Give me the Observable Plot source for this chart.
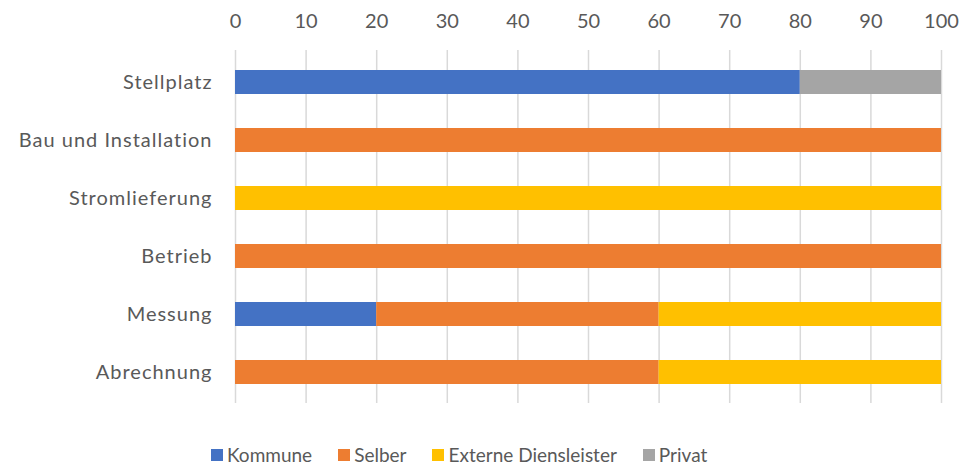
<!DOCTYPE html>
<html>
<head>
<meta charset="utf-8">
<script src="https://cdn.jsdelivr.net/npm/d3@7"></script>
<script src="https://cdn.jsdelivr.net/npm/@observablehq/plot@0.6"></script>
<style>
  body { margin: 0; background: #fff; font-family: Lato, "Open Sans", sans-serif; }
  #chart svg { display: block; }
  .legend { display: flex; align-items: center; margin-left: 211px; padding-top: 26px; color: #595959; font-size: 19px; line-height: 18px; }
  .legend .item { display: flex; align-items: center; margin-right: 26px; }
  .legend .sw { width: 12px; height: 12px; margin-right: 4px; }
  .ylab text { letter-spacing: 1px; }
</style>
</head>
<body>
<div id="chart"></div>
<script>
// Tasks and who carries them out (share in %)
const categories = ["Stellplatz", "Bau und Installation", "Stromlieferung", "Betrieb", "Messung", "Abrechnung"];
const seriesNames = ["Kommune", "Selber", "Externe Diensleister", "Privat"];
const seriesColors = ["#4472C4", "#ED7D31", "#FFC000", "#A5A5A5"];
const kommune = [80, 0, 0, 0, 20, 0];
const selber  = [0, 100, 0, 100, 40, 60];
const externe = [0, 0, 100, 0, 40, 40];
const privat  = [20, 0, 0, 0, 0, 0];
const xTicks = [0, 10, 20, 30, 40, 50, 60, 70, 80, 90, 100];

const seriesValues = [kommune, selber, externe, privat];
const rows = [];
seriesNames.forEach((s, i) => {
  categories.forEach((c, j) => {
    if (seriesValues[i][j] > 0) rows.push({category: c, series: s, value: seriesValues[i][j]});
  });
});

const textColor = "#595959";
const chart = Plot.plot({
  width: 973,
  height: 420,
  marginTop: 50,
  marginBottom: 17,
  marginLeft: 235,
  marginRight: 32,
  style: {fontFamily: "Lato, 'Open Sans', sans-serif", fontSize: "18px", color: textColor},
  x: {domain: [0, 100]},
  y: {domain: categories, paddingInner: 0.59, paddingOuter: 0.295},
  color: {domain: seriesNames, range: seriesColors},
  marks: [
    Plot.gridX(xTicks, {stroke: "#d9d9d9", strokeOpacity: 1, strokeWidth: 1.5}),
    Plot.barX(rows, Plot.stackX({y: "category", x: "value", fill: "series", order: seriesNames})),
    Plot.axisX({anchor: "top", ticks: xTicks, tickSize: 0, tickPadding: 23, label: null, fontSize: 20, fill: textColor}),
    Plot.axisY({tickSize: 0, tickPadding: 23, label: null, fontSize: 20, fill: textColor, className: "ylab"})
  ]
});
document.getElementById("chart").appendChild(chart);

const legend = document.createElement("div");
legend.className = "legend";
seriesNames.forEach((s, i) => {
  const item = document.createElement("div");
  item.className = "item";
  const sw = document.createElement("span");
  sw.className = "sw";
  sw.style.background = seriesColors[i];
  const label = document.createElement("span");
  label.textContent = s;
  item.append(sw, label);
  legend.appendChild(item);
});
document.getElementById("chart").appendChild(legend);
</script>
</body>
</html>
